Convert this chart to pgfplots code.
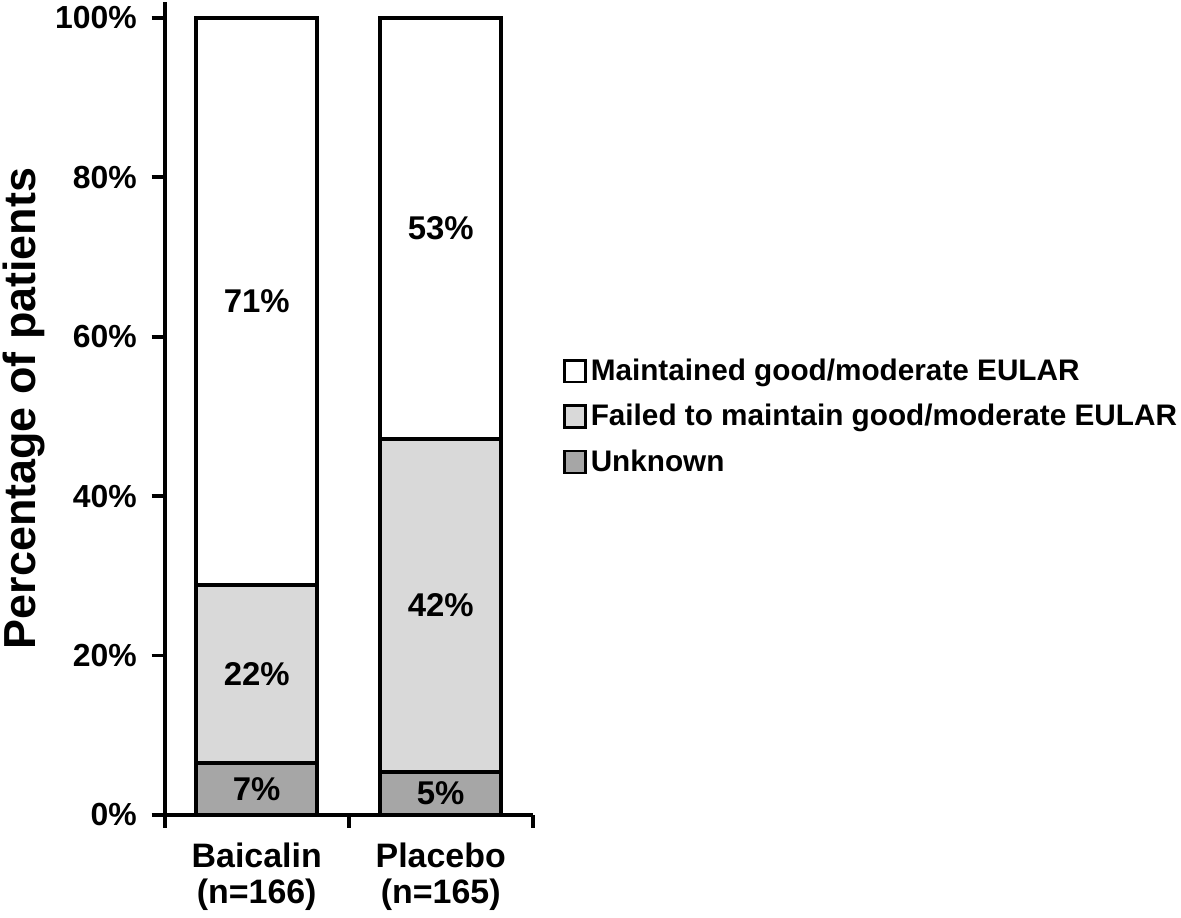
\documentclass[border=0pt]{standalone}
\usepackage{fontspec}
\setmainfont{Liberation Sans}
\usepackage{pgfplots}
\usepackage{pgfplotstable}
\pgfplotsset{compat=1.18}
\definecolor{cUnk}{HTML}{A6A6A6}
\definecolor{cFail}{HTML}{D9D9D9}

% segment heights as drawn, labels as printed
\pgfplotstableread{
x unk fail main lu lf lm
0 6.5 22.4 71.1 7 22 71
1 5.4 41.8 52.8 5 42 53
}\data

\begin{document}
\begin{tikzpicture}
\begin{axis}[
  scale only axis, width=184.5pt, height=407.5pt,
  ybar stacked, bar width=60.5pt,
  xmin=-0.5, xmax=1.5, ymin=0, ymax=102,
  axis x line*=bottom, axis y line*=left,
  axis line style={line width=2pt, -},
  xtick={-0.5,0.5,1.5}, xticklabels={},
  extra x ticks={0,1},
  extra x tick labels={{Baicalin\\(n=166)},{Placebo\\(n=165)}},
  extra x tick style={major tick length=0pt},
  x tick label style={align=center, yshift=-10.5pt, font=\fontsize{17}{18}\selectfont\bfseries},
  ytick={0,20,...,100},
  yticklabel={\pgfmathprintnumber{\tick}\%},
  y tick label style={xshift=-4pt, font=\fontsize{16}{18}\selectfont\bfseries},
  /pgf/number format/assume math mode=true,
  tick align=outside, major tick length=6.5pt,
  tick style={line width=2pt, black},
  ylabel={Percentage of patients},
  ylabel style={inner sep=1.5pt, font=\fontsize{22.5}{26}\selectfont\bfseries},
  legend style={at={(1,0.49)}, xshift=15pt, anchor=west, draw=none, fill=none,
    inner sep=0pt, font=\fontsize{14.9}{17}\selectfont\bfseries, row sep=6.5pt},
  legend cell align=left, reverse legend,
  legend image code/.code={\draw[#1, line width=1.4pt] (0pt,-5.5pt) rectangle (10.5pt,5.5pt);},
  nodes near coords={\pgfplotspointmeta\%},
  point meta=explicit symbolic,
  every node near coord/.append style={anchor=center,
    font=\fontsize{16.5}{19}\selectfont\bfseries, text=black},
]
\addplot[fill=cUnk, draw=black, line width=2pt] table[x=x, y=unk, meta=lu] {\data};
\addlegendentry{Unknown}
\addplot[fill=cFail, draw=black, line width=2pt] table[x=x, y=fail, meta=lf] {\data};
\addlegendentry{Failed to maintain good/moderate EULAR}
\addplot[fill=white, draw=black, line width=2pt] table[x=x, y=main, meta=lm] {\data};
\addlegendentry{Maintained good/moderate EULAR}
\end{axis}
\end{tikzpicture}
\end{document}
